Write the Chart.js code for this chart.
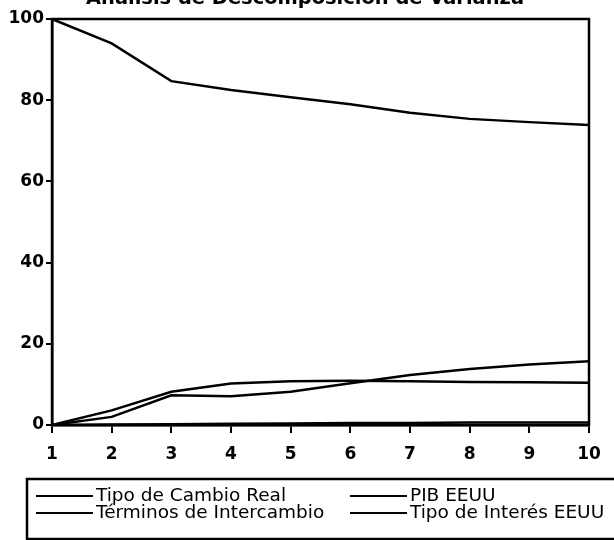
<!DOCTYPE html>
<html lang="es">
<head>
<meta charset="UTF-8">
<title>Descomposición de Varianza</title>
<style>
  html, body { margin: 0; padding: 0; background: #fff; }
  #capa { width: 614px; height: 540px; overflow: hidden; }
</style>
<script src="https://cdn.jsdelivr.net/npm/chart.js"></script>
</head>
<body>
<div id="capa"><canvas id="myChart" width="614" height="540"></canvas></div>
<script>
// datos
var titulo = 'Análisis de Descomposición de Varianza';
var periodos = ['1', '2', '3', '4', '5', '6', '7', '8', '9', '10'];
var tipoCambioReal = [100, 94.0, 84.7, 82.5, 80.7, 79.0, 76.9, 75.4, 74.6, 73.9];
var pibEEUU = [0, 3.6, 8.2, 10.2, 10.8, 10.9, 10.8, 10.6, 10.5, 10.4];
var terminosIntercambio = [0, 2.0, 7.3, 7.1, 8.2, 10.3, 12.3, 13.8, 14.9, 15.7];
var tipoInteresEEUU = [0, 0.1, 0.2, 0.3, 0.4, 0.5, 0.5, 0.6, 0.6, 0.6];
var ticksY = [0, 20, 40, 60, 80, 100];

var fuente = '"DejaVu Sans", Verdana, sans-serif';

// caja alrededor del area de graficos + titulo cortado arriba
const marco = {
  id: 'marco',
  afterDatasetsDraw(chart) {
    const a = chart.chartArea, ctx = chart.ctx;
    ctx.save();
    ctx.strokeStyle = '#000';
    ctx.lineWidth = 2.5;
    ctx.strokeRect(a.left, a.top, a.right - a.left, a.bottom - a.top);
    ctx.fillStyle = '#000';
    ctx.font = 'bold 20px ' + fuente;
    ctx.textAlign = 'center';
    ctx.textBaseline = 'alphabetic';
    ctx.fillText(titulo, 305, 4, 438);
    ctx.restore();
  }
};

// leyenda en caja de dos columnas
const leyenda = {
  id: 'leyenda',
  afterDraw(chart) {
    const ctx = chart.ctx;
    const top = chart.scales.x.bottom + 20;
    const cols = [36, 350];
    const filas = [top + 17, top + 34];
    ctx.save();
    ctx.strokeStyle = '#000';
    ctx.lineWidth = 2.5;
    ctx.strokeRect(27, top, 620, 60);
    ctx.lineWidth = 2;
    ctx.font = '18.5px ' + fuente;
    ctx.textBaseline = 'middle';
    ctx.fillStyle = '#000';
    chart.data.datasets.forEach(function (ds, i) {
      const x = cols[i % 2], y = filas[Math.floor(i / 2)];
      ctx.beginPath();
      ctx.moveTo(x, y);
      ctx.lineTo(x + 57, y);
      ctx.stroke();
      ctx.fillText(ds.label, x + 60, y);
    });
    ctx.restore();
  }
};

function serie(label, data) {
  return {
    label: label,
    data: data,
    borderColor: '#000',
    backgroundColor: '#000',
    borderWidth: 2.5,
    pointRadius: 0,
    tension: 0,
    fill: false
  };
}

const config = {
  type: 'line',
  data: {
    labels: periodos,
    datasets: [
      serie('Tipo de Cambio Real', tipoCambioReal),
      serie('PIB EEUU', pibEEUU),
      serie('Términos de Intercambio', terminosIntercambio),
      serie('Tipo de Interés EEUU', tipoInteresEEUU)
    ]
  },
  options: {
    responsive: false,
    animation: false,
    devicePixelRatio: 1,
    layout: { padding: { top: 19, right: 25, bottom: 81, left: 0 } },
    plugins: {
      legend: { display: false },
      title: { display: false },
      tooltip: { enabled: false }
    },
    scales: {
      x: {
        type: 'category',
        offset: false,
        afterFit(scale) { scale.height = 34; },
        grid: { drawOnChartArea: false, drawTicks: true, tickLength: 8, color: '#000', lineWidth: 2 },
        border: { display: true, color: '#000', width: 2.5 },
        ticks: { color: '#000', font: { family: fuente, size: 17, weight: 'bold' }, padding: 11, maxRotation: 0, autoSkip: false }
      },
      y: {
        min: 0,
        max: 100,
        afterFit(scale) { scale.width = 52; },
        afterBuildTicks(scale) { scale.ticks = ticksY.map(function (v) { return { value: v }; }); },
        grid: { drawOnChartArea: false, drawTicks: true, tickLength: 6, color: '#000', lineWidth: 2 },
        border: { display: true, color: '#000', width: 2.5 },
        ticks: { color: '#000', font: { family: fuente, size: 17, weight: 'bold' }, padding: 2 }
      }
    }
  },
  plugins: [marco, leyenda]
};

const myChart = new Chart(document.getElementById('myChart'), config);
</script>
</body>
</html>
